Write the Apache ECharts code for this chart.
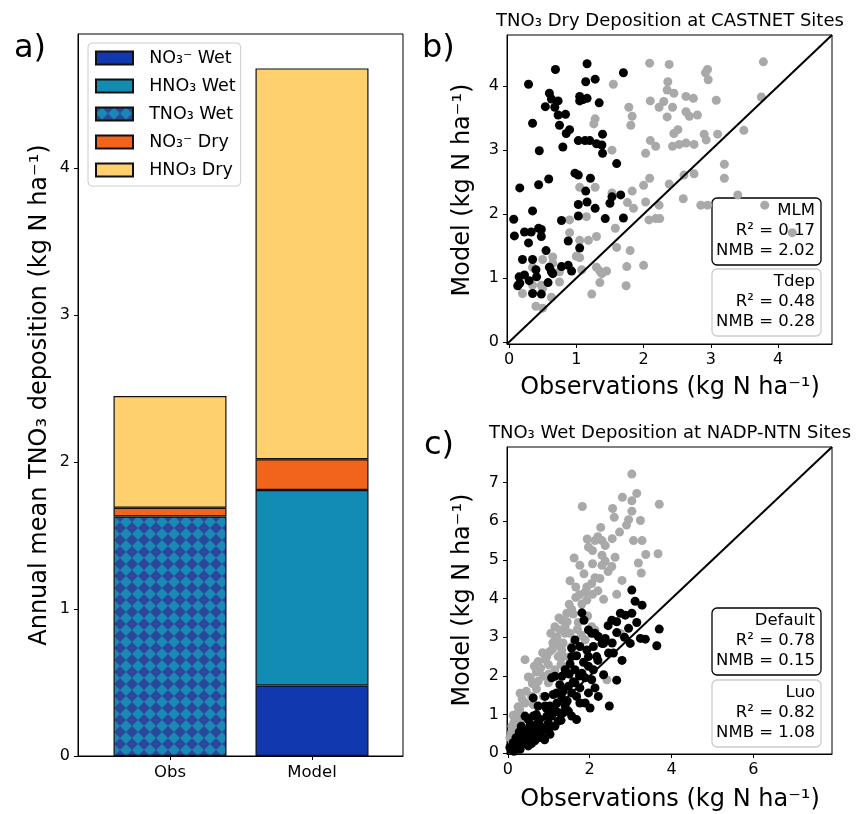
<!DOCTYPE html>
<html>
<head>
<meta charset="utf-8">
<script src="https://cdn.jsdelivr.net/npm/echarts@6/dist/echarts.min.js"></script>
<style>
  html, body { margin: 0; padding: 0; background: #fff; }
  #chart { width: 856px; height: 814px; }
</style>
</head>
<body>
<div id="chart"></div>
<script>
// ---- Panel a: annual mean TNO3 deposition, stacked by component ----
const barCategories = ['Obs', 'Model'];
const barSeriesNames = ['NO₃⁻ Wet', 'HNO₃ Wet', 'TNO₃ Wet', 'NO₃⁻ Dry', 'HNO₃ Dry'];
const no3Wet  = [null, 0.48];
const hno3Wet = [null, 1.33];
const tno3Wet = [1.63, null];
const no3Dry  = [0.06, 0.21];
const hno3Dry = [0.76, 2.66];
const barYTicks = [0, 1, 2, 3, 4];

// ---- Panel b: TNO3 dry deposition at CASTNET sites [obs, model] ----
const dryMLM = [
  [1.16,4.35],[0.69,4.26],[1.70,4.21],[1.28,4.11],[1.14,4.07],[0.29,4.03],[0.60,3.89],[1.05,3.84],
  [1.16,3.81],[0.63,3.80],[0.73,3.77],[0.54,3.68],[0.68,3.67],[1.34,3.74],[1.05,3.77],[1.10,3.79],
  [0.73,3.55],[0.84,3.56],[0.35,3.42],[0.75,3.39],[0.90,3.32],[0.85,3.26],[1.39,3.25],[1.03,3.15],
  [1.13,3.15],[1.20,3.15],[1.30,3.10],[1.38,3.08],[0.80,3.05],[0.45,2.99],[1.39,2.95],[1.60,2.79],
  [0.98,2.64],[1.03,2.61],[1.21,2.56],[0.59,2.55],[0.16,2.41],[0.44,2.46],[1.14,2.36],[1.53,2.27],
  [1.66,2.30],[1.50,2.17],[1.16,2.19],[1.03,2.15],[1.28,2.09],[0.35,2.05],[0.07,1.92],[1.03,1.97],
  [1.43,1.93],[1.70,1.94],[0.78,1.90],[0.23,1.72],[0.33,1.72],[0.44,1.78],[0.48,1.76],[0.08,1.66],
  [0.48,1.65],[0.29,1.55],[0.88,1.58],[0.55,1.43],[1.05,1.47],[0.20,1.29],[0.35,1.29],[0.60,1.17],
  [0.78,1.18],[0.88,1.20],[0.93,1.11],[0.63,1.10],[0.40,1.13],[0.23,1.05],[0.15,1.02],[0.30,0.96],
  [0.35,0.76],[0.48,0.75],[0.13,0.88],[0.58,0.93],[0.16,0.92],[0.65,1.07],[0.41,1.02]
];
const dryTdep = [
  [2.09,4.36],[2.38,4.34],[3.78,4.38],[2.95,4.26],[2.92,4.21],[2.96,4.10],[1.55,4.03],[2.36,4.07],
  [2.35,3.94],[2.45,3.89],[2.63,3.84],[2.74,3.81],[2.10,3.77],[2.30,3.76],[2.23,3.67],[2.43,3.67],
  [3.08,3.78],[3.75,3.83],[1.78,3.67],[2.63,3.60],[2.68,3.53],[2.80,3.55],[2.35,3.52],[1.83,3.53],
  [1.28,3.49],[1.26,3.41],[1.81,3.39],[2.51,3.32],[3.49,3.31],[2.45,3.26],[2.90,3.25],[3.10,3.25],
  [2.10,3.15],[2.18,3.06],[2.43,3.06],[2.53,3.09],[2.63,3.11],[2.75,3.09],[2.93,3.16],[2.03,2.95],
  [1.53,3.00],[3.20,2.78],[3.20,2.56],[2.75,2.63],[2.60,2.61],[2.38,2.47],[2.09,2.56],[2.00,2.45],
  [1.28,2.42],[1.05,2.42],[1.53,2.33],[1.83,2.36],[2.03,2.19],[2.23,2.14],[2.59,2.24],[1.76,2.18],
  [1.85,2.09],[3.40,2.30],[2.85,2.14],[2.95,2.14],[3.80,2.14],[2.08,1.91],[2.18,1.93],[2.24,1.93],
  [1.58,1.78],[0.90,1.91],[1.15,1.96],[4.21,1.71],[0.90,1.71],[1.30,1.65],[1.18,1.59],[1.05,1.59],
  [1.60,1.48],[1.80,1.43],[1.05,1.32],[1.00,1.34],[2.00,1.20],[1.75,1.18],[1.45,1.11],[1.35,1.11],
  [1.30,1.17],[1.38,1.07],[0.75,1.10],[0.65,1.23],[0.50,1.29],[0.35,1.17],[0.75,0.94],[1.35,0.93],
  [1.74,0.88],[1.23,0.75],[0.48,0.89],[0.50,0.84],[0.35,0.89],[0.20,0.76],[0.63,0.70],[0.40,0.56],
  [0.50,0.53],[0.65,1.33],[1.08,1.13]
];
const dryTicks = [0, 1, 2, 3, 4];
const dryStatNames = ['MLM', 'Tdep'];
const dryR2  = [0.17, 0.48];
const dryNMB = [2.02, 0.28];

// ---- Panel c: TNO3 wet deposition at NADP-NTN sites [obs, model] ----
const wetLuo = [
  [3.03,7.22],[3.15,6.72],[2.80,6.62],[3.03,6.53],[3.70,6.44],[1.82,6.38],[2.56,6.33],[3.03,6.26],
  [2.95,6.04],[3.24,6.02],[2.27,5.84],[2.73,5.72],[1.94,5.54],[2.13,5.50],[2.30,5.50],[2.38,5.37],
  [3.07,5.50],[3.28,5.50],[1.97,5.33],[2.07,5.24],[2.30,5.12],[2.62,5.07],[1.62,5.05],[1.76,4.86],
  [2.07,4.90],[2.30,4.86],[2.54,4.83],[2.38,4.97],[3.37,5.14],[3.67,5.16],[3.19,4.92],[1.86,4.64],
  [3.26,4.66],[2.13,4.54],[2.25,4.52],[1.52,4.46],[1.66,4.30],[1.93,4.30],[2.05,4.39],[1.89,4.17],
  [2.79,4.47],[2.66,4.11],[1.66,4.03],[1.93,3.96],[2.34,3.98],[2.07,4.11],[1.81,3.86],[1.56,3.72],
  [1.44,3.62],[1.33,3.44],[1.72,3.38],[2.05,3.27],[1.15,3.27],[1.27,3.19],[1.40,3.10],[1.52,3.10],
  [1.15,2.93],[1.27,2.80],[1.03,2.63],[1.32,2.66],[1.50,2.49],[0.42,2.42],[0.74,2.37],[0.91,2.42],
  [0.99,2.29],[1.15,2.16],[0.87,1.99],[0.50,1.97],[0.74,1.86],[0.70,1.66],[0.99,1.82],[0.58,1.47],
  [0.87,1.47],[0.42,1.30],[0.29,1.13],[0.62,1.26],[0.13,0.98],[0.33,0.87],[0.21,0.70],[0.09,0.53],
  [0.50,0.62],[1.36,2.50],[1.23,2.50],[1.60,2.80],[1.89,2.93],[2.13,3.19],[2.42,1.90],[2.75,3.10],
  [1.20,3.00],[1.35,2.85],[1.10,2.70],[0.95,2.50],[0.80,2.20],[0.60,1.80],[0.45,1.60],[0.35,1.40],
  [0.25,1.20],[0.15,0.80],[0.05,0.40],[1.45,3.40],[1.25,3.50],[1.60,3.60],[0.70,2.10],[0.55,1.95],
  [1.00,2.05],[1.30,2.30],[1.55,2.75],[1.80,3.05],[1.40,3.25],[1.10,2.85],[0.85,2.60],[1.70,3.20],
  [2.20,4.20],[1.75,4.10],[2.45,4.70],[2.20,5.60],[2.55,5.55],[1.95,3.55],[0.30,1.55],[0.65,2.25],
  [0.20,1.00],[0.10,0.70],[1.05,3.10],[1.50,3.85],[2.90,5.90],[2.60,6.10]
];
const wetDefault = [
  [3.03,4.22],[3.11,3.93],[3.28,3.83],[1.81,3.63],[1.86,3.44],[2.75,3.62],[2.87,3.57],[2.54,3.44],
  [2.66,3.40],[3.03,3.62],[3.15,3.38],[2.95,3.23],[3.70,3.21],[1.97,3.19],[2.05,3.10],[2.21,3.02],
  [2.38,2.97],[2.34,2.84],[2.66,3.12],[3.24,2.97],[3.36,2.95],[3.64,2.78],[2.99,2.84],[1.76,2.76],
  [1.93,2.67],[2.09,2.76],[1.56,2.50],[1.68,2.52],[1.97,2.50],[2.17,2.50],[2.46,2.59],[2.58,2.59],
  [2.79,2.40],[1.52,2.31],[1.64,2.16],[1.81,2.07],[1.97,2.25],[2.09,2.16],[1.85,2.35],[1.40,2.16],
  [1.32,1.99],[1.15,1.99],[1.07,1.95],[1.27,1.77],[1.48,1.73],[1.64,1.82],[1.76,1.69],[1.97,1.56],
  [2.13,1.69],[2.34,2.03],[2.66,1.89],[2.48,1.22],[1.56,1.56],[1.68,1.47],[1.89,1.30],[1.40,1.22],
  [1.32,1.43],[1.19,1.56],[1.11,1.52],[0.91,1.47],[0.62,1.43],[0.74,1.22],[0.91,1.22],[1.03,1.22],
  [1.15,1.13],[1.36,1.05],[1.56,0.96],[1.68,0.87],[1.48,1.09],[0.62,0.96],[0.74,0.79],[0.50,0.87],
  [0.42,0.96],[0.33,0.70],[0.54,0.62],[0.70,0.53],[0.87,0.62],[1.03,0.49],[0.83,0.45],[0.42,0.36],
  [0.25,0.36],[0.13,0.27],[0.09,0.10],[0.21,0.15],[0.33,0.23],[0.50,0.19],[0.66,0.32],[1.23,0.83],
  [0.99,0.79],[1.07,0.96],[2.13,3.10],[2.30,2.84],[1.64,2.93],[1.56,2.72],[1.89,1.95],[2.05,1.90],
  [2.21,1.47],[1.76,1.30],[2.01,1.17],[0.15,0.05],[0.30,0.10],[0.45,0.25],[0.60,0.45],[0.35,0.50],
  [0.20,0.40],[0.55,0.75],[0.80,0.70],[0.95,0.95],[0.70,1.00],[1.20,1.30],[1.05,1.05],[0.40,0.60],
  [0.90,0.35],[1.15,0.70],[0.05,0.15],[1.35,1.60],[1.60,1.85],[2.45,3.30],[2.85,3.00],[0.28,0.55],
  [0.48,0.42],[0.62,0.62],[0.78,0.88],[0.95,1.15],[1.25,1.05],[1.45,1.35],[0.18,0.22],[0.38,0.30],
  [0.58,0.25],[0.75,0.40],[1.00,0.60],[1.30,0.85],[1.75,2.00],[2.20,2.40],[2.55,2.85],[1.50,2.05]
];
const wetXTicks = [0, 2, 4, 6];
const wetYTicks = [0, 1, 2, 3, 4, 5, 6, 7];
const wetStatNames = ['Default', 'Luo'];
const wetR2  = [0.78, 0.82];
const wetNMB = [0.15, 1.08];

// ---- styling ----
const FONT = 'DejaVu Sans';
const UNIT = '(kg N ha⁻¹)';
const barColors = ['#1238b0', '#138cb4', null, '#f2641b', '#fed16e'];
const BLACK = '#000000';
const GREY = '#a9a9a9';

// checker-diamond fill for the combined TNO3 wet bar
function diamondPattern() {
  const s = 12;
  const c = document.createElement('canvas');
  c.width = s; c.height = s;
  const g = c.getContext('2d');
  g.fillStyle = '#2d4698';
  g.fillRect(0, 0, s, s);
  g.fillStyle = '#1789b4';
  g.beginPath();
  g.moveTo(s / 2, 0); g.lineTo(s, s / 2); g.lineTo(s / 2, s); g.lineTo(0, s / 2);
  g.closePath();
  g.fill();
  return { image: c, repeat: 'repeat' };
}

const tickStyle = { show: true, inside: false, length: 4, lineStyle: { color: BLACK, width: 1 } };
const lineStyle = { show: true, onZero: false, lineStyle: { color: BLACK, width: 1 } };
const labelBase = { color: BLACK, fontFamily: FONT, fontSize: 16, margin: 8 };
const hidden = { show: false };

function valueAxis(grid, min, max, ticks, extra) {
  return Object.assign({
    type: 'value', gridIndex: grid, min: min, max: max,
    axisLine: lineStyle,
    axisTick: Object.assign({ customValues: ticks }, tickStyle),
    axisLabel: Object.assign({ customValues: ticks }, labelBase),
    splitLine: { show: false }
  }, extra || {});
}

// bars live on their own grid whose edges sit on the two category points,
// the framed grid 0 carries the value ticks
const barStacks = [no3Wet, hno3Wet, tno3Wet, no3Dry, hno3Dry];
const barSeries = barSeriesNames.map((name, k) => ({
  name: name,
  type: 'bar',
  stack: 'total',
  xAxisIndex: 3, yAxisIndex: 3,
  barWidth: 113,
  clip: false,
  itemStyle: {
    color: barColors[k] || diamondPattern(),
    borderColor: '#111', borderWidth: 1.2
  },
  data: barStacks[k].map(v => (v == null ? '-' : v))
}));

const dryLim = [-0.03, 4.8];
const wetLim = [-0.02, 7.92];
const barMax = 4.914;

function scatter(name, data, color, axis) {
  return {
    name: name, type: 'scatter', xAxisIndex: axis, yAxisIndex: axis,
    symbolSize: 9, data: data, silent: true,
    itemStyle: { color: color, opacity: 1 }
  };
}
function oneToOne(lim, axis) {
  return {
    type: 'line', xAxisIndex: axis, yAxisIndex: axis, silent: true,
    symbol: 'none', z: 5,
    lineStyle: { color: BLACK, width: 2 },
    data: [[lim[0], lim[0]], [lim[1], lim[1]]]
  };
}

function statBox(x, y, name, r2, nmb, edge) {
  return {
    type: 'group', z: 100,
    children: [
      { type: 'rect', shape: { x: x, y: y, width: 109, height: 67, r: 5 },
        style: { fill: 'rgba(255,255,255,0.8)', stroke: edge, lineWidth: 1.3 } },
      { type: 'text', x: x + 103, y: y + 3,
        style: { text: name + '\nR² = ' + r2.toFixed(2) + '\nNMB = ' + nmb.toFixed(2),
          fill: BLACK, font: '16.5px "' + FONT + '"', textAlign: 'right',
          textVerticalAlign: 'top', lineHeight: 20 } }
    ]
  };
}
function label(x, y, text, size, rot, align) {
  return { type: 'text', x: x, y: y, rotation: rot || 0, z: 100,
    style: { text: text, fill: BLACK, font: size + 'px "' + FONT + '"',
      textAlign: align || 'center', textVerticalAlign: 'middle' } };
}

const frame = { show: true, borderColor: BLACK, borderWidth: 1, backgroundColor: 'transparent' };

const chart = echarts.init(document.getElementById('chart'), null, { renderer: 'canvas' });
chart.setOption({
  animation: false,
  backgroundColor: '#fff',
  grid: [
    Object.assign({ left: 78, top: 34, width: 325, height: 722 }, frame),
    Object.assign({ left: 507, top: 35, width: 325, height: 309 }, frame),
    Object.assign({ left: 507, top: 447, width: 325, height: 307 }, frame),
    { left: 170, top: 34, width: 142, height: 722, show: false }
  ],
  xAxis: [
    { type: 'value', gridIndex: 0, min: 0, max: 1, axisLine: lineStyle,
      axisTick: hidden, axisLabel: hidden, splitLine: hidden },
    valueAxis(1, dryLim[0], dryLim[1], dryTicks),
    valueAxis(2, wetLim[0], wetLim[1], wetXTicks),
    { type: 'category', gridIndex: 3, data: barCategories, boundaryGap: false,
      axisLine: { show: false },
      axisTick: Object.assign({ alignWithLabel: true }, tickStyle),
      axisLabel: Object.assign({}, labelBase, { fontSize: 16.5 }),
      splitLine: hidden }
  ],
  yAxis: [
    valueAxis(0, 0, barMax, barYTicks),
    valueAxis(1, dryLim[0], dryLim[1], dryTicks),
    valueAxis(2, wetLim[0], wetLim[1], wetYTicks),
    { type: 'value', gridIndex: 3, min: 0, max: barMax, show: false, splitLine: hidden }
  ],
  legend: {
    data: barSeriesNames,
    orient: 'vertical',
    left: 88, top: 43,
    icon: 'rect',
    itemWidth: 37, itemHeight: 13, itemGap: 8,
    padding: [5, 5, 6, 7],
    backgroundColor: 'rgba(255,255,255,0.8)',
    borderColor: '#cccccc', borderWidth: 1, borderRadius: 4,
    selectedMode: false,
    formatter: n => '  ' + n,
    textStyle: { color: BLACK, fontFamily: FONT, fontSize: 17.5, lineHeight: 20 }
  },
  series: barSeries.concat([
    scatter(dryStatNames[1], dryTdep, GREY, 1),
    scatter(dryStatNames[0], dryMLM, BLACK, 1),
    oneToOne(dryLim, 1),
    scatter(wetStatNames[1], wetLuo, GREY, 2),
    scatter(wetStatNames[0], wetDefault, BLACK, 2),
    oneToOne(wetLim, 2)
  ]),
  graphic: [
    label(14, 49, 'a)', 32, 0, 'left'),
    label(422, 49, 'b)', 32, 0, 'left'),
    label(424, 446, 'c)', 32, 0, 'left'),
    label(670, 21, 'TNO₃ Dry Deposition at CASTNET Sites', 18),
    label(670, 433, 'TNO₃ Wet Deposition at NADP-NTN Sites', 18),
    label(40, 395, 'Annual mean TNO₃ deposition ' + UNIT, 24, Math.PI / 2),
    label(463, 190, 'Model ' + UNIT, 24, Math.PI / 2),
    label(463, 600, 'Model ' + UNIT, 24, Math.PI / 2),
    label(670, 388, 'Observations ' + UNIT, 24),
    label(670, 800, 'Observations ' + UNIT, 24),
    statBox(712, 198, dryStatNames[0], dryR2[0], dryNMB[0], BLACK),
    statBox(712, 269, dryStatNames[1], dryR2[1], dryNMB[1], '#cccccc'),
    statBox(712, 608, wetStatNames[0], wetR2[0], wetNMB[0], BLACK),
    statBox(712, 680, wetStatNames[1], wetR2[1], wetNMB[1], '#cccccc')
  ]
});
</script>
</body>
</html>
